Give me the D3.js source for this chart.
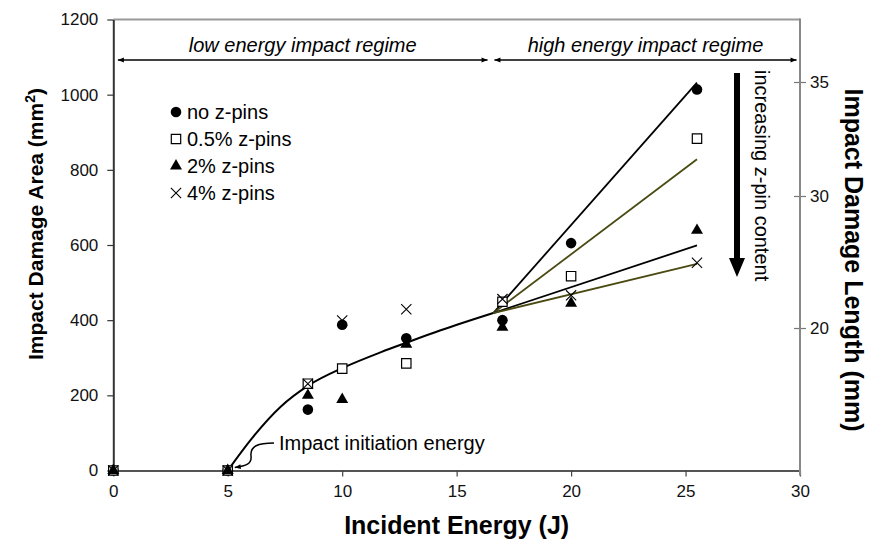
<!DOCTYPE html>
<html>
<head>
<meta charset="utf-8">
<script src="https://cdn.jsdelivr.net/npm/d3@7"></script>
<style>
  html, body { margin: 0; padding: 0; background: #fff; }
  svg { display: block; font-family: "Liberation Sans", Arial, Helvetica, sans-serif; }
</style>
</head>
<body>
<div id="chart"></div>
<script>
// incident energies (J) at which the samples were tested
const energies = [0, 5, 8.5, 10, 12.8, 17, 20, 25.5];

// impact damage area (mm^2) per z-pin content
const noPins  = [0, 0, 162, 388, 352, 400, 605, 1014];
const pin05   = [0, 0, 231, 271, 285, 449, 517, 883];
const pin2    = [0, 0, 200, 189, 336, 381, 445, 639];
const pin4    = [0, 0, 231, 399, 429, 456, 466, 553];

// hand-drawn trend curve in the low energy regime
const lowCurveE = [5, 6.1, 7.3, 8.55, 10.1, 11.7, 12.85, 14.3, 16.6];
const lowCurveA = [0, 89, 169, 227, 275, 315, 341, 373, 419];

// fan of trend lines in the high energy regime (start at 16.6 J, end at 25.5 J)
const highStart = [16.6, 419];
const highEndE = 25.5;
const highEndA = [1032, 828, 599, 550];
const highColors = ['#000', '#4a4a12', '#000', '#4a4a12'];

const xTicks = [0, 5, 10, 15, 20, 25, 30];
const yTicks = [0, 200, 400, 600, 800, 1000, 1200];
const rightTicks = [20, 30, 35];

const seriesNames = ['no z-pins', '0.5% z-pins', '2% z-pins', '4% z-pins'];
const seriesValues = [noPins, pin05, pin2, pin4];
const seriesShapes = ['circle', 'square', 'triangle', 'times'];

const width = 872, height = 543;
const svg = d3.select('#chart').append('svg')
  .attr('width', width)
  .attr('height', height);

const x = d3.scaleLinear().domain([0, 30]).range([113.3, 800]);
const y = d3.scaleLinear().domain([0, 1200]).range([470.5, 19.5]);
// the right-hand length axis is not linear against area, so map its ticks piecewise
const yR = d3.scaleLinear().domain([20, 30, 35]).range([328, 196, 82]);

const defs = svg.append('defs');
defs.append('marker')
  .attr('id', 'head')
  .attr('viewBox', '0 -5 10 10')
  .attr('refX', 10).attr('refY', 0)
  .attr('markerWidth', 7).attr('markerHeight', 6)
  .attr('markerUnits', 'userSpaceOnUse')
  .attr('orient', 'auto-start-reverse')
  .append('path').attr('d', 'M0,-4L10,0L0,4Z').attr('fill', '#000');

// frame: grey top + right
svg.append('line')
  .attr('x1', x(0)).attr('x2', x(30))
  .attr('y1', y(1200)).attr('y2', y(1200))
  .attr('stroke', '#999').attr('stroke-width', 2);

const tickFont = 17;

// left axis
const gy = svg.append('g')
  .attr('transform', `translate(${x(0)},0)`)
  .call(d3.axisLeft(y).tickValues(yTicks).tickFormat(d3.format('d'))
    .tickSize(6).tickSizeOuter(0).tickPadding(9));
gy.select('.domain').attr('stroke', '#333').attr('stroke-width', 2);
gy.selectAll('.tick line').attr('stroke', '#333').attr('stroke-width', 1.2);
gy.selectAll('.tick text').attr('font-size', tickFont).attr('fill', '#111')
  .attr('font-family', '"Liberation Sans", Arial, sans-serif');

// bottom axis
const gx = svg.append('g')
  .attr('transform', `translate(0,${y(0)})`)
  .call(d3.axisBottom(x).tickValues(xTicks).tickSize(6).tickSizeOuter(0).tickPadding(8));
gx.select('.domain').attr('stroke', '#555').attr('stroke-width', 2);
gx.selectAll('.tick line').attr('stroke', '#444').attr('stroke-width', 1.2);
gx.selectAll('.tick text').attr('font-size', tickFont).attr('fill', '#111')
  .attr('font-family', '"Liberation Sans", Arial, sans-serif');

// right axis
const gr = svg.append('g')
  .attr('transform', `translate(${x(30)},0)`)
  .call(d3.axisRight(yR).tickValues(rightTicks).tickSize(6).tickPadding(4));
gr.select('.domain').remove();
svg.append('line')
  .attr('x1', x(30)).attr('x2', x(30))
  .attr('y1', y(1200) - 1).attr('y2', y(0) + 5)
  .attr('stroke', '#888').attr('stroke-width', 2);
gr.selectAll('.tick line').attr('x1', -6).attr('stroke', '#777').attr('stroke-width', 1.2);
gr.selectAll('.tick text').attr('font-size', tickFont).attr('fill', '#111')
  .attr('font-family', '"Liberation Sans", Arial, sans-serif');

// axis titles
svg.append('text')
  .attr('x', (x(0) + x(30)) / 2).attr('y', 534)
  .attr('text-anchor', 'middle')
  .attr('font-size', 25).attr('font-weight', 'bold')
  .text('Incident Energy (J)');

const leftTitle = svg.append('text')
  .attr('transform', 'translate(43,224) rotate(-90)')
  .attr('text-anchor', 'middle')
  .attr('font-size', 21).attr('font-weight', 'bold');
leftTitle.append('tspan').text('Impact Damage Area (mm');
leftTitle.append('tspan').attr('dy', -8).attr('font-size', 14).text('2');
leftTitle.append('tspan').attr('dy', 8).text(')');

svg.append('text')
  .attr('transform', 'translate(845,260) rotate(90)')
  .attr('text-anchor', 'middle')
  .attr('font-size', 25).attr('font-weight', 'bold')
  .text('Impact Damage Length (mm)');

// regime arrows + labels
const regimes = [
  { label: 'low energy impact regime', from: 0.2, to: 16.35 },
  { label: 'high energy impact regime', from: 16.65, to: 29.85 }
];
regimes.forEach(r => {
  svg.append('line')
    .attr('x1', x(r.from)).attr('x2', x(r.to))
    .attr('y1', 60).attr('y2', 60)
    .attr('stroke', '#000').attr('stroke-width', 1.5)
    .attr('marker-start', 'url(#head)')
    .attr('marker-end', 'url(#head)');
  svg.append('text')
    .attr('x', (x(r.from) + x(r.to)) / 2).attr('y', 52)
    .attr('text-anchor', 'middle')
    .attr('font-size', 20).attr('font-style', 'italic')
    .text(r.label);
});

// trend curve in low regime
const curveLine = d3.line()
  .x((d, i) => x(lowCurveE[i]))
  .y((d, i) => y(lowCurveA[i]))
  .curve(d3.curveMonotoneX);
svg.append('path')
  .datum(lowCurveE)
  .attr('d', curveLine)
  .attr('fill', 'none')
  .attr('stroke', '#000')
  .attr('stroke-width', 2);

// fan of lines in high regime
svg.append('g').selectAll('line')
  .data(highEndA)
  .join('line')
  .attr('x1', x(highStart[0])).attr('y1', y(highStart[1]))
  .attr('x2', x(highEndE)).attr('y2', d => y(d))
  .attr('stroke', (d, i) => highColors[i])
  .attr('stroke-width', 1.8);

// markers
function drawMarker(g, shape) {
  if (shape === 'circle') {
    g.append('path').attr('d', d3.symbol(d3.symbolCircle, 88)()).attr('fill', '#000');
  } else if (shape === 'square') {
    g.append('path').attr('d', d3.symbol(d3.symbolSquare, 88)())
      .attr('fill', '#fff').attr('stroke', '#000').attr('stroke-width', 1.2);
  } else if (shape === 'triangle') {
    g.append('path').attr('d', d3.symbol(d3.symbolTriangle, 62)()).attr('fill', '#000');
  } else {
    g.append('path').attr('d', d3.symbol(d3.symbolTimes, 70)())
      .attr('fill', 'none').attr('stroke', '#000').attr('stroke-width', 1.1);
  }
}

seriesValues.forEach((vals, s) => {
  const g = svg.append('g');
  vals.forEach((v, i) => {
    const m = g.append('g').attr('transform', `translate(${x(energies[i])},${y(v)})`);
    drawMarker(m, seriesShapes[s]);
  });
});

// legend
const legendY = [112, 139, 166, 193];
seriesNames.forEach((name, i) => {
  const m = svg.append('g').attr('transform', `translate(176,${legendY[i]})`);
  drawMarker(m, seriesShapes[i]);
  svg.append('text')
    .attr('x', 187).attr('y', legendY[i])
    .attr('dy', '0.35em')
    .attr('font-size', 20)
    .text(name);
});

// "increasing z-pin content" arrow
const ax = 737;
svg.append('path')
  .attr('d', `M${ax - 3},73 L${ax + 3},73 L${ax + 3},258 L${ax + 8},258 L${ax},277 L${ax - 8},258 L${ax - 3},258 Z`)
  .attr('fill', '#000');
svg.append('text')
  .attr('transform', 'translate(755,70) rotate(90)')
  .attr('text-anchor', 'start')
  .attr('font-size', 20)
  .text('increasing z-pin content');

// impact initiation energy callout
const tip = [x(5) + 7, y(0) - 3];
svg.append('path')
  .attr('d', `M274,443 C258,443 250,446 251,456 C252,464 246,466 ${tip[0]},${tip[1]}`)
  .attr('fill', 'none')
  .attr('stroke', '#000').attr('stroke-width', 1.5)
  .attr('marker-end', 'url(#head)');
svg.append('text')
  .attr('x', 279).attr('y', 443)
  .attr('dy', '0.35em')
  .attr('font-size', 20)
  .text('Impact initiation energy');
</script>
</body>
</html>
